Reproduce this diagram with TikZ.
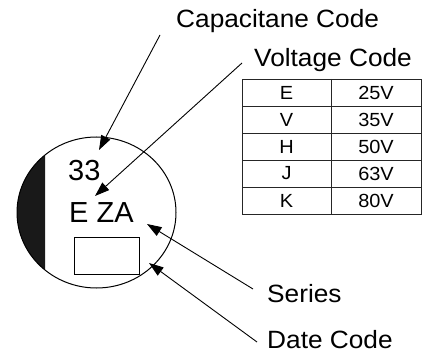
\documentclass[tikz,border=0pt]{standalone}
\usepackage{fontspec}
\setmainfont{Liberation Sans}
\usetikzlibrary{arrows.meta}
\begin{document}
\begin{tikzpicture}[x=1pt,y=-1pt,
  lbl/.style={anchor=base west,inner sep=0pt,font=\fontsize{25}{30}\selectfont},
  codetxt/.style={anchor=base west,inner sep=0pt,font=\fontsize{29}{34}\selectfont},
  cell/.style={anchor=center,inner sep=0pt,font=\fontsize{19}{22}\selectfont},
  ptr/.style={line width=0.9pt,-{Triangle[length=14.5pt,width=10pt]}},
  grid/.style={line width=0.9pt,draw=black!85}]
\useasboundingbox (0,0) rectangle (422,352);
% capacitor top
\begin{scope}
  \clip (0,0) rectangle (45,352);
  \fill[black!90] (96.5,212.5) ellipse [x radius=79.5pt, y radius=75.5pt];
\end{scope}
\draw[line width=1pt] (96.5,212.5) ellipse [x radius=79.5pt, y radius=75.5pt];
\node[codetxt] (c33) at (68,181) {33};
\node[codetxt] (eza) at (69,223) {E ZA};
\node[draw,line width=0.9pt,minimum width=65pt,minimum height=37pt,inner sep=0pt,anchor=north west] (box) at (74,237) {};
% labels
\node[lbl] (cap) at (176,28) {\scalebox{1.05}[1]{Capacitane Code}};
\node[lbl] (vol) at (254,67) {\scalebox{1.05}[1]{Voltage Code}};
\node[lbl] (ser) at (267,302) {\scalebox{1.05}[1]{Series}};
\node[lbl] (dat) at (267,348) {\scalebox{1.05}[1]{Date Code}};
% pointer ends
\coordinate (capS) at (160,35);
\coordinate (capT) at (99,150);
\coordinate (volS) at (242,63);
\coordinate (volT) at (95,196);
\coordinate (serS) at (253,289);
\coordinate (serT) at (147,224);
\coordinate (datS) at (257,342);
\coordinate (datT) at (149,263);
\draw[ptr] (capS) -- (capT);
\draw[ptr] (volS) -- (volT);
\draw[ptr] (serS) -- (serT);
\draw[ptr] (datS) -- (datT);
% table
\draw[grid] (242,79) rectangle (421,214);
\draw[grid] (331,79) -- (331,214);
\foreach \y in {106,133,160,187} \draw[grid] (242,\y) -- (421,\y);
\foreach \c/\v [count=\i] in {E/25V,V/35V,H/50V,J/63V,K/80V} {
  \node[cell] (k\i) at (286.5,{79+27*(\i-0.5)}) {\scalebox{1.05}[1]{\c}};
  \node[cell] (v\i) at (376,{79+27*(\i-0.5)}) {\scalebox{1.05}[1]{\v}};
}
\end{tikzpicture}
\end{document}
